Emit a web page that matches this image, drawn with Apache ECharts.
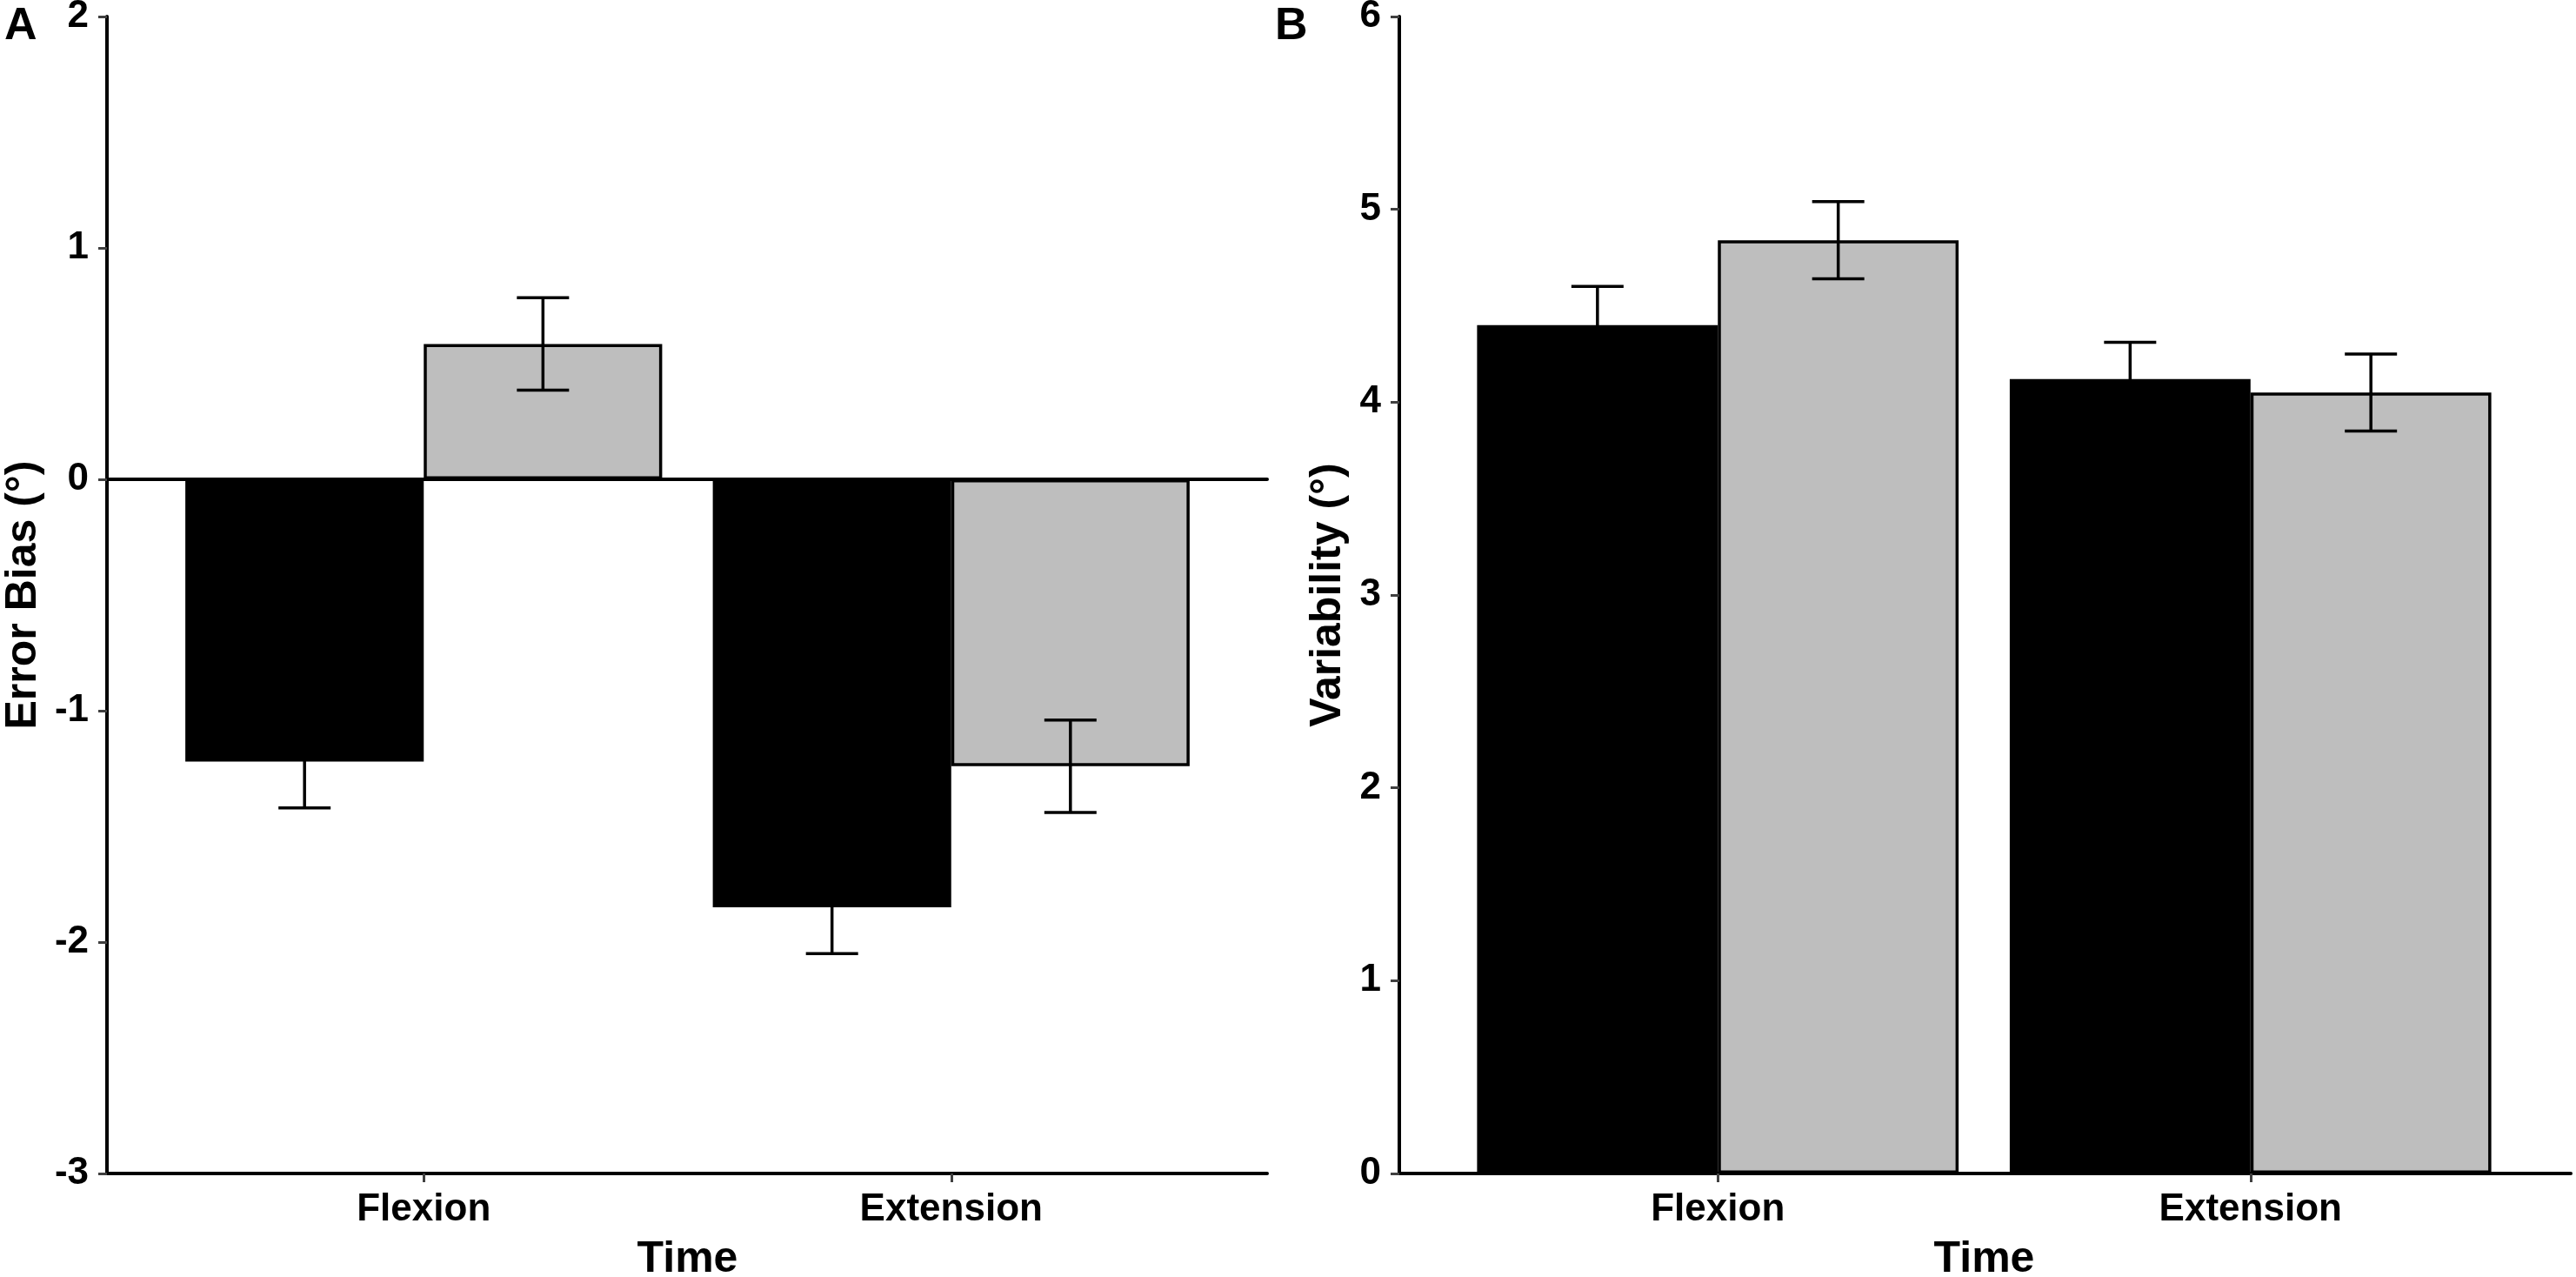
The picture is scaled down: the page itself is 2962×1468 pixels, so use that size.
<!DOCTYPE html>
<html>
<head>
<meta charset="utf-8">
<title>Error bias and variability</title>
<script src="https://cdn.jsdelivr.net/npm/echarts@6/dist/echarts.min.js"></script>
<style>
  html, body { margin: 0; padding: 0; background: #fff; }
  #main { width: 2962px; height: 1468px; }
</style>
</head>
<body>
<div id="main"></div>
<script>
// data
var categories = ['Flexion', 'Extension'];

// panel A - error bias
var aBlack = [-1.22, -1.85];
var aGray = [0.585, -1.24];
var aBlackErr = [0.2, 0.2];
var aGrayErr = [0.2, 0.2];
var aTicks = [-3, -2, -1, 0, 1, 2];

// panel B - variability
var bBlack = [4.40, 4.12];
var bGray = [4.84, 4.05];
var bBlackErr = [0.2, 0.19];
var bGrayErr = [0.2, 0.2];
var bTicks = [0, 1, 2, 3, 4, 5, 6];

var FONT = 'Liberation Sans';
var GRAY = '#bebebe';
var GAP = 0.096; // bar category gap
var LW = 4;

var chart = echarts.init(document.getElementById('main'), null, { renderer: 'canvas' });

function errData(vals, errs) {
    return vals.map(function(v, i) { return [i, v, errs[i]]; });
}

// error bar drawn at the left (-1) or right (+1) bar of the group
function errRenderer(side) {
    return function(params, api) {
        var ci = api.value(0), v = api.value(1), e = api.value(2);
        var band = api.size([1, 0])[0];
        var bw = band * (1 - GAP) / 2;
        var cx = api.coord([ci, v])[0] + side * bw / 2;
        var yTop = api.coord([ci, v + e])[1];
        var yBot = api.coord([ci, v - e])[1];
        var half = 30;
        var st = { stroke: '#000', lineWidth: 3.5 };
        return {
            type: 'group',
            children: [
                { type: 'line', shape: { x1: cx, y1: yTop, x2: cx, y2: yBot }, style: st },
                { type: 'line', shape: { x1: cx - half, y1: yTop, x2: cx + half, y2: yTop }, style: st },
                { type: 'line', shape: { x1: cx - half, y1: yBot, x2: cx + half, y2: yBot }, style: st }
            ]
        };
    };
}

function frameY(ticks, name, gridIndex, nameGap) {
    return {
        type: 'value', gridIndex: gridIndex,
        min: ticks[0], max: ticks[ticks.length - 1], interval: ticks[1] - ticks[0],
        splitLine: { show: false },
        axisLine: { show: true, lineStyle: { color: '#000', width: LW } },
        axisTick: { show: true, length: 10, lineStyle: { color: '#404040', width: 3 } },
        axisLabel: { margin: 21, color: '#000', fontFamily: FONT, fontWeight: 'bold', fontSize: 44 },
        name: name, nameLocation: 'middle', nameGap: nameGap,
        nameTextStyle: { color: '#000', fontFamily: FONT, fontWeight: 'bold', fontSize: 50 }
    };
}

function hiddenY(ticks, gridIndex) {
    return {
        type: 'value', gridIndex: gridIndex, show: false,
        min: ticks[0], max: ticks[ticks.length - 1], interval: ticks[1] - ticks[0],
        splitLine: { show: false }
    };
}

function lineX(gridIndex, onZero) {
    return {
        type: 'value', gridIndex: gridIndex, min: 0, max: 1, position: 'bottom',
        splitLine: { show: false },
        axisLine: { show: true, onZero: onZero, lineStyle: { color: '#000', width: LW } },
        axisTick: { show: false }, axisLabel: { show: false }
    };
}

function catX(gridIndex) {
    return {
        type: 'category', gridIndex: gridIndex, data: categories, position: 'bottom',
        axisLine: { show: false, onZero: false },
        axisTick: { show: true, alignWithLabel: true, length: 10, lineStyle: { color: '#404040', width: 3 } },
        axisLabel: { margin: 20, color: '#000', fontFamily: FONT, fontWeight: 'bold', fontSize: 44 },
        name: 'Time', nameLocation: 'middle', nameGap: 74,
        nameTextStyle: { color: '#000', fontFamily: FONT, fontWeight: 'bold', fontSize: 50 }
    };
}

function bars(name, data, color, xi, yi) {
    return {
        name: name, type: 'bar', xAxisIndex: xi, yAxisIndex: yi, data: data,
        barGap: '0%', barCategoryGap: (GAP * 100) + '%',
        itemStyle: { color: color, borderColor: '#000', borderWidth: 3.5 },
        animation: false
    };
}

function errs(name, data, side, xi, yi) {
    return {
        name: name, type: 'custom', xAxisIndex: xi, yAxisIndex: yi,
        data: data, renderItem: errRenderer(side),
        encode: { x: 0, y: 1 }, z: 5, animation: false
    };
}

function grid(left, width) {
    return { left: left, top: 19, width: width, height: 1330, outerBoundsMode: 'none', containLabel: false };
}

var option = {
    backgroundColor: '#fff',
    animation: false,
    title: [
        { text: 'A', left: 5, top: 5, padding: 0, textStyle: { fontFamily: FONT, fontWeight: 'bold', fontSize: 52, color: '#000' } },
        { text: 'B', left: 1466, top: 5, padding: 0, textStyle: { fontFamily: FONT, fontWeight: 'bold', fontSize: 52, color: '#000' } }
    ],
    grid: [
        grid(123, 1334),   // A frame
        grid(184, 1213),   // A bars
        grid(1609, 1347),  // B frame
        grid(1669, 1225)   // B bars
    ],
    xAxis: [
        lineX(0, false),   // 0: A bottom line
        lineX(0, true),    // 1: A zero line
        catX(1),           // 2: A categories
        lineX(2, false),   // 3: B bottom line
        catX(3)            // 4: B categories
    ],
    yAxis: [
        frameY(aTicks, 'Error Bias (°)', 0, 71),  // 0
        hiddenY(aTicks, 1),                      // 1
        frameY(bTicks, 'Variability (°)', 2, 57), // 2
        hiddenY(bTicks, 3)                       // 3
    ],
    series: [
        bars('Black', aBlack, '#000', 2, 1),
        bars('Gray', aGray, GRAY, 2, 1),
        errs('Black err', errData(aBlack, aBlackErr), -1, 2, 1),
        errs('Gray err', errData(aGray, aGrayErr), 1, 2, 1),
        bars('Black', bBlack, '#000', 4, 3),
        bars('Gray', bGray, GRAY, 4, 3),
        errs('Black err', errData(bBlack, bBlackErr), -1, 4, 3),
        errs('Gray err', errData(bGray, bGrayErr), 1, 4, 3)
    ]
};

chart.setOption(option);
</script>
</body>
</html>
